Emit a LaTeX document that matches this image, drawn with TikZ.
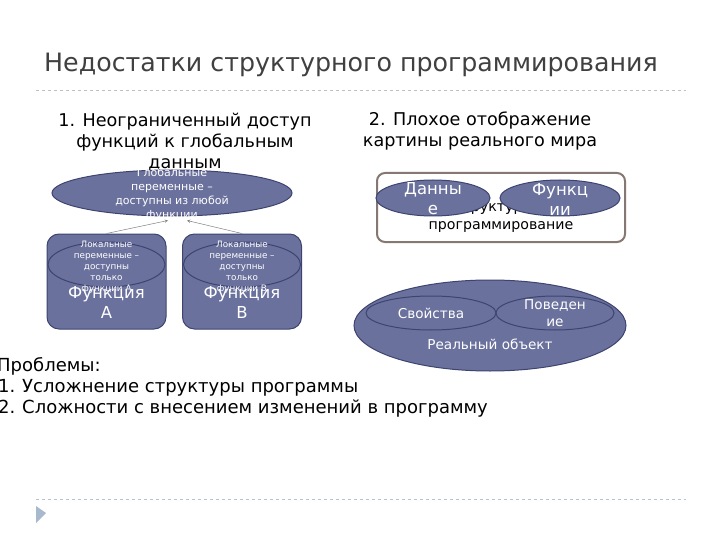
\documentclass[tikz,border=0pt]{standalone}
\usepackage{fontspec}
\setmainfont{DejaVu Sans}
\usepackage{tikz}
\usetikzlibrary{shapes.geometric}
\definecolor{slate}{HTML}{6A719D}
\definecolor{slateline}{HTML}{3E4470}
\definecolor{framecol}{HTML}{857873}
\definecolor{rulecol}{HTML}{B7C2CB}
\definecolor{titlecol}{HTML}{404040}
\definecolor{bulletcol}{HTML}{A9B9CD}
\newcommand{\fs}[2]{\fontsize{#1}{#2}\selectfont}

\begin{document}
\begin{tikzpicture}[x=1pt,y=-1pt,>=stealth]
\tikzstyle{txt}=[inner sep=0pt,align=center]
\tikzstyle{blob}=[draw=slateline,line width=1pt,fill=slate,ellipse,inner sep=0pt]
\tikzstyle{func}=[draw=slateline,line width=1pt,fill=slate,rounded corners=12pt,inner sep=0pt,minimum width=119pt,minimum height=95pt]
\tikzstyle{wtxt}=[txt,text=white]
\useasboundingbox (0,0) rectangle (720,540);
% title and rules
    \node[txt,anchor=base west,text=titlecol,font=\fs{25.3}{30}] (title) at (44,72) {Недостатки структурного программирования};
    \coordinate (r1a) at (36,90);  \coordinate (r1b) at (686,90);
    \coordinate (r2a) at (36,499); \coordinate (r2b) at (686,499);
    \draw[rulecol,dashed,line width=0.8pt] (r1a) -- (r1b);
    \draw[rulecol,dashed,line width=0.8pt] (r2a) -- (r2b);
    \fill[bulletcol] (36,506) -- (46,513) -- (36,523) -- cycle;
% headers
    \node[txt,font=\fs{17.6}{21}] (h1) at (185,142) {1. Неограниченный доступ\\функций к глобальным\\данным};
    \node[txt,font=\fs{17.6}{21}] (h2) at (480,131) {2. Плохое отображение\\картины реального мира};
% tree 1: global data and functions
    \node[blob,minimum width=240pt,minimum height=46pt] (glob) at (172,193) {};
    \node[wtxt,font=\fs{11}{14}] (globtxt) at (172,194) {Глобальные\\переменные –\\доступны из любой\\функции};
    \node[func] (fa) at (106.5,281.5) {};
    \node[func] (fb) at (242,281.5) {};
    \node[wtxt,font=\fs{16.5}{20}] (fatxt) at (106.5,302) {Функция\\А};
    \node[wtxt,font=\fs{16.5}{20}] (fbtxt) at (242,302) {Функция\\В};
    \node[blob,minimum width=117pt,minimum height=45pt] (la) at (106.5,264.5) {};
    \node[blob,minimum width=117pt,minimum height=45pt] (lb) at (242,264.5) {};
    \node[wtxt,font=\fs{8.8}{11}] (latxt) at (106.5,267) {Локальные\\переменные –\\доступны\\только\\функции А};
    \node[wtxt,font=\fs{8.8}{11}] (lbtxt) at (242,267) {Локальные\\переменные –\\доступны\\только\\функции В};
%   edges
    \draw[->,gray,line width=0.5pt] (fa.north) -- ([xshift=-4pt,yshift=-4pt]glob.south);
    \draw[->,gray,line width=0.5pt] (fb.north) -- ([xshift=15pt,yshift=-4pt]glob.south);
% tree 2: structured programming
    \node[draw=framecol,line width=2pt,rounded corners=8pt,fill=white,minimum width=248pt,minimum height=69pt] (sp) at (501,207.5) {};
    \node[txt,font=\fs{14.2}{18}] (sptxt) at (501,217) {Структурное\\программирование};
    \node[blob,minimum width=114pt,minimum height=36pt] (dat) at (433,198) {};
    \node[blob,minimum width=120pt,minimum height=36pt] (fun) at (560,198) {};
    \node[wtxt,font=\fs{16.5}{20}] (dattxt) at (433,199) {Данны\\е};
    \node[wtxt,font=\fs{16.5}{20}] (funtxt) at (560,199) {Функц\\ии};
% real object
    \node[blob,minimum width=272pt,minimum height=91pt] (obj) at (490,325.5) {};
    \node[blob,minimum width=130pt,minimum height=34pt] (prop) at (431,313) {};
    \node[blob,minimum width=118pt,minimum height=34pt] (beh) at (555,313) {};
    \node[wtxt,font=\fs{13.6}{17}] (proptxt) at (431,313) {Свойства};
    \node[wtxt,font=\fs{13.6}{17}] (behtxt) at (555,313) {Поведен\\ие};
    \node[wtxt,font=\fs{13.6}{17}] (objtxt) at (490,344) {Реальный объект};
% problems
    \node[txt,anchor=base west,font=\fs{18}{21}] (pr) at (-3,371) {Проблемы:};
    \node[txt,anchor=base west,font=\fs{18}{21}] (n1) at (-2,392) {1.};
    \node[txt,anchor=base west,font=\fs{18}{21}] (p1) at (22,392) {Усложнение структуры программы};
    \node[txt,anchor=base west,font=\fs{18}{21}] (n2) at (-2,413) {2.};
    \node[txt,anchor=base west,font=\fs{18}{21}] (p2) at (22,413) {Сложности с внесением изменений в программу};
\end{tikzpicture}
\end{document}
